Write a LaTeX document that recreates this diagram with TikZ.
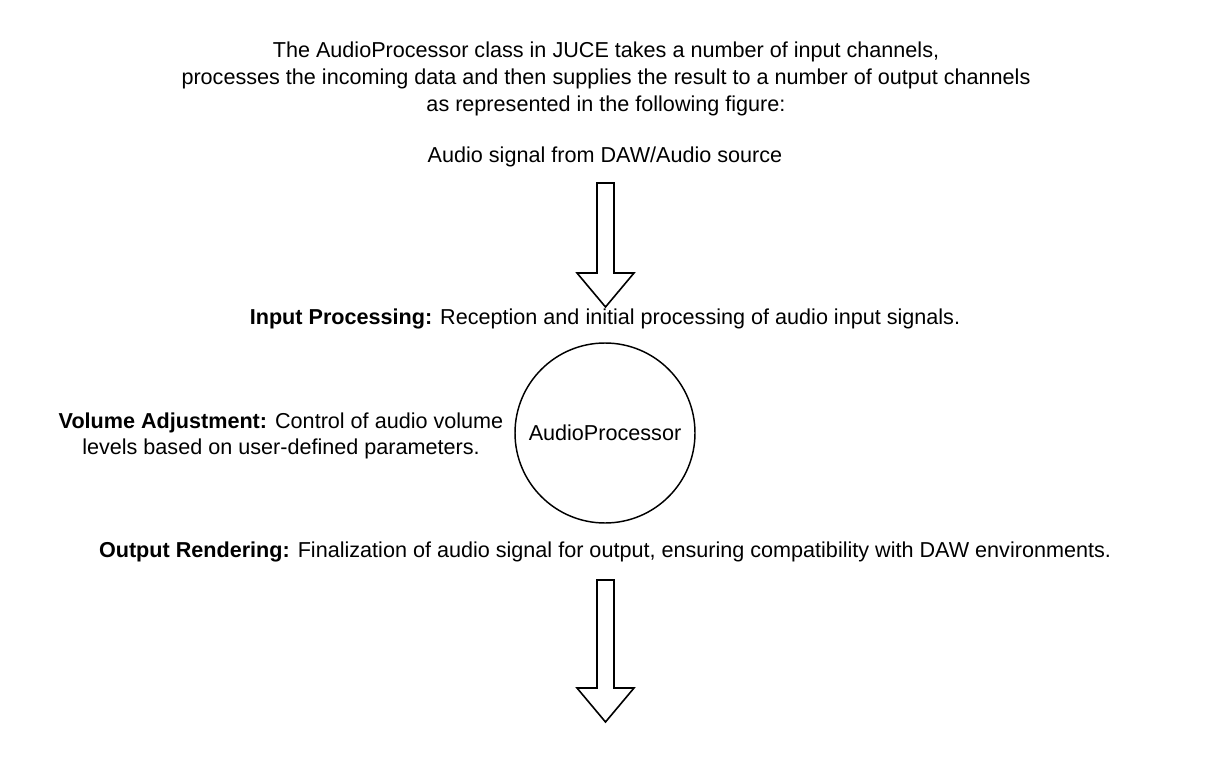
\documentclass[tikz,border=0pt]{standalone}
\usepackage{fontspec}
\setmainfont{Liberation Sans}
\usetikzlibrary{positioning,calc}

\begin{document}
\begin{tikzpicture}
		[x=0.75pt,y=-0.75pt,
		every node/.style={font=\fontsize{16.2}{20}\selectfont,inner sep=0pt,align=center},
		procbox/.style={draw=black,line width=1.1pt,circle,minimum size=135pt},
		blockarrow/.style={draw=black,line width=1.2pt,fill=white,line join=miter}]
	\useasboundingbox (0,0) rectangle (1210,759);
	% texts
	\node (intro) at (606,79) {The AudioProcessor class in JUCE takes a number of input channels,\\
		processes the incoming data and then supplies the result to a number of output channels\\
		as represented in the following figure:};
	\node (source) at (605,157) {Audio signal from DAW/Audio source};
	\node (input) at (605,319) {\textbf{Input Processing:} Reception and initial processing of audio input signals.};
	\node[procbox] (proc) at (605,433) {AudioProcessor};
	\node (volume) at (281,436) {\textbf{Volume Adjustment:} Control of audio volume\\ levels based on user-defined parameters.};
	\node (output) at (605,552) {\textbf{Output Rendering:} Finalization of audio signal for output, ensuring compatibility with DAW environments.};
	% block arrows
	\coordinate (intop) at (605.5,183);
	\coordinate (intip) at (605.5,307);
	\coordinate (outtop) at (605.5,580);
	\coordinate (outtip) at (605.5,722);
	\foreach \a/\b in {intop/intip,outtop/outtip}
		\draw[blockarrow] (\a) ++(-8.5,0) -- ++(17,0) -- ($(\b)+(8.5,-34)$) -- ++(20,0) -- (\b)
			-- ++(-28.5,-34) -- ++(20,0) -- cycle;
\end{tikzpicture}
\end{document}
